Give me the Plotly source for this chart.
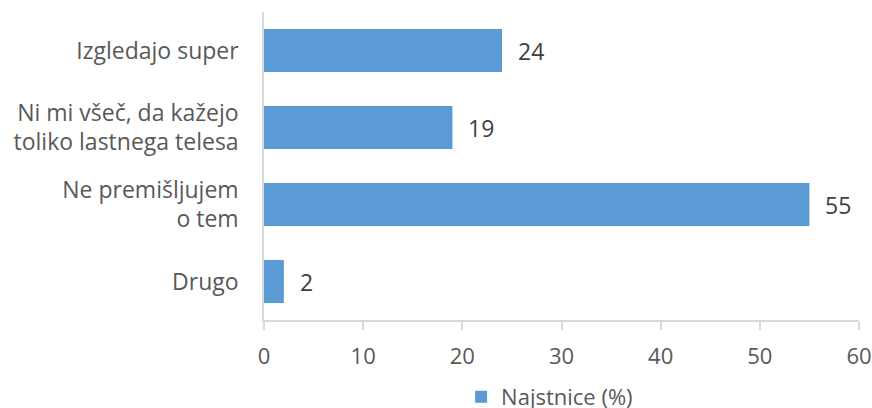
import plotly.graph_objects as go

categories = ["Izgledajo super", "Ni mi všeč, da kažejo<br>toliko lastnega telesa", "Ne premišljujem<br>o tem", "Drugo"]
values = [24, 19, 55, 2]
series_name = "Najstnice (%)"
x_ticks = [0, 10, 20, 30, 40, 50, 60]

fig = go.Figure()
fig.add_trace(go.Bar(
    y=categories, x=values, orientation="h", name=series_name,
    marker=dict(color="#5B9BD5", line=dict(width=0)),
))
for c, v in zip(categories, values):
    fig.add_annotation(x=v, y=c, text=str(v), showarrow=False, xanchor="left",
                       xshift=14, font=dict(size=23, color="#404040"))

font = "Open Sans, Liberation Sans, sans-serif"
fig.update_layout(
    width=872, height=408,
    margin=dict(l=264, r=13, t=12, b=88),
    paper_bgcolor="white", plot_bgcolor="white",
    font=dict(family=font, size=23, color="#595959"),
    bargap=0.44,
    showlegend=True,
    legend=dict(orientation="h", x=0.48, xanchor="center", xref="paper",
                y=0.027, yanchor="middle", yref="container",
                font=dict(size=22, color="#595959"), itemwidth=30),
    xaxis=dict(range=[0, 60], tickvals=x_ticks, showgrid=False, zeroline=False,
               showline=True, linecolor="#D9D9D9", linewidth=1.5,
               ticks="outside", ticklen=8, tickcolor="#D9D9D9", tickwidth=1.5,
               ticklabelstandoff=8, automargin=False, ticklabeloverflow="allow",
               tickfont=dict(size=22, color="#595959")),
    yaxis=dict(autorange="reversed", showgrid=False, zeroline=False,
               showline=True, linecolor="#D9D9D9", linewidth=1.5,
               ticks="", ticklabelstandoff=19, automargin=False,
               tickfont=dict(size=23, color="#595959")),
)
fig.write_html("out.html", config={"displayModeBar": False},
               post_script="document.body.style.margin='0';document.body.style.overflow='hidden';")
